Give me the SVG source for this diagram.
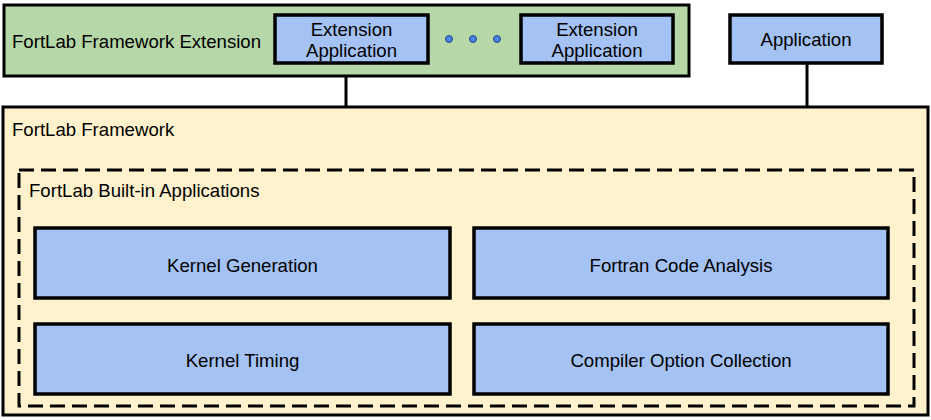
<svg xmlns="http://www.w3.org/2000/svg" width="931" height="420" viewBox="0 0 931 420">
<style>
text{font-family:"Liberation Sans",Arial,sans-serif;font-size:18.6px;fill:#000}
.c{text-anchor:middle}
.blue{fill:#a4c2f4;stroke:#000;stroke-width:3.5}
.conn{stroke:#000;stroke-width:3;fill:none}
</style>
<g id="framework">
<rect x="3" y="107" width="925" height="308" fill="#fff2cc" stroke="#000" stroke-width="3"/>
<text x="12" y="136">FortLab Framework</text>
</g>
<g id="builtin">
<rect x="19" y="170" width="895" height="236" fill="none" stroke="#000" stroke-width="3" stroke-dasharray="15 7"/>
<text x="29" y="197">FortLab Built-in Applications</text>
</g>
<g id="kernel-generation">
<rect class="blue" x="35" y="228" width="415" height="70"/>
<text class="c" x="242.5" y="272">Kernel Generation</text>
</g>
<g id="fortran-code-analysis">
<rect class="blue" x="474" y="228" width="414" height="70"/>
<text class="c" x="681" y="272">Fortran Code Analysis</text>
</g>
<g id="kernel-timing">
<rect class="blue" x="35" y="324" width="415" height="70"/>
<text class="c" x="242.5" y="367">Kernel Timing</text>
</g>
<g id="compiler-option-collection">
<rect class="blue" x="474" y="324" width="414" height="70"/>
<text class="c" x="681" y="367">Compiler Option Collection</text>
</g>
<g id="connectors">
<line class="conn" x1="346" y1="76" x2="346" y2="107"/>
<line class="conn" x1="807" y1="63" x2="807" y2="107"/>
</g>
<g id="extension">
<rect x="4" y="5" width="685" height="71" fill="#b6d7a8" stroke="#000" stroke-width="3"/>
<text x="12" y="48">FortLab Framework Extension</text>
</g>
<g id="extension-app-1">
<rect class="blue" x="275" y="15" width="153" height="48"/>
<text class="c" x="351.5" y="36">Extension</text>
<text class="c" x="351.5" y="57">Application</text>
</g>
<g id="dots">
<circle cx="449" cy="39" r="3.5" fill="#4a86e8" stroke="#1c4587" stroke-width="1"/>
<circle cx="473" cy="39" r="3.5" fill="#4a86e8" stroke="#1c4587" stroke-width="1"/>
<circle cx="497" cy="39" r="3.5" fill="#4a86e8" stroke="#1c4587" stroke-width="1"/>
</g>
<g id="extension-app-2">
<rect class="blue" x="521" y="15" width="152" height="48"/>
<text class="c" x="597" y="36">Extension</text>
<text class="c" x="597" y="57">Application</text>
</g>
<g id="application">
<rect class="blue" x="730" y="15" width="152" height="48"/>
<text class="c" x="806" y="46">Application</text>
</g>
</svg>
